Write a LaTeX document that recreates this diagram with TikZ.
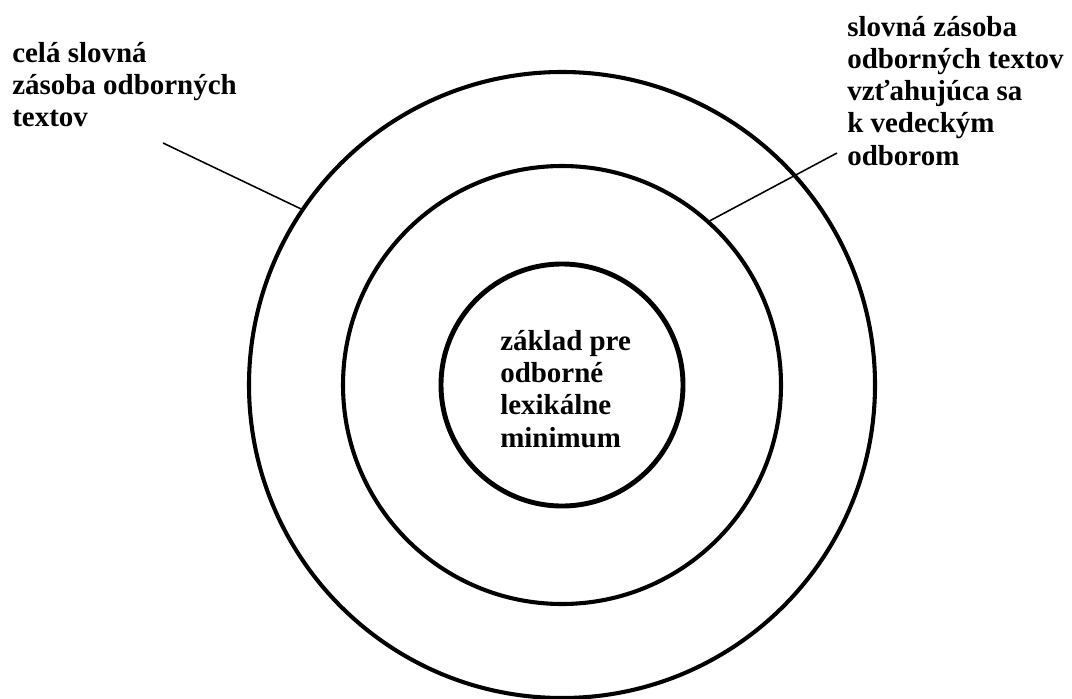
\documentclass[tikz,border=0pt]{standalone}
\usepackage{fontspec}
\setmainfont{Liberation Serif}
\usepackage{tikz}

\begin{document}
\begin{tikzpicture}[
		ring/.style={draw, circle, inner sep=0pt, line width=2.9pt},
		lextext/.style={align=left, inner sep=0pt, anchor=base west, font=\bfseries\fontsize{20.6}{22.8}\selectfont}
	]

	\useasboundingbox (0,0) rectangle (26.8,17.45);

	\node[ring, minimum size=15.65cm] (outer) at (14.05,7.825) {};
	\node[ring, minimum size=10.95cm] (middle) at (14.05,7.825) {};
	\node[ring, minimum size=6.05cm, line width=3.5pt] (inner) at (14.05,7.825) {};

	\node[lextext] (whole) at (0.3,14.275) {celá slovná\\zásoba odborných\\textov};
	\node[lextext] (fields) at (21.175,13.325) {slovná zásoba\\odborných textov\\vzťahujúca sa\\k vedeckým\\odborom};
	\node[lextext] (core) at (12.5,6.275) {základ pre\\odborné\\lexikálne\\minimum};

	\coordinate (wholeend) at (4.075,13.875);
	\coordinate (fieldsend) at (20.925,13.625);

	\draw[line width=1.1pt] (wholeend) -- (outer.146.9);
	\draw[line width=1.1pt] (middle.48.7) -- (fieldsend);

\end{tikzpicture}
\end{document}
